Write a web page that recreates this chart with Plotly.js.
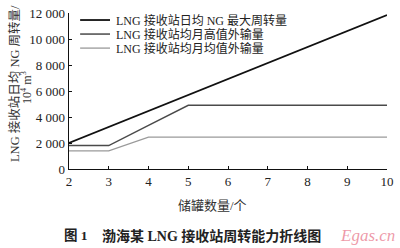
<!DOCTYPE html>
<html><head><meta charset="utf-8">
<script src="https://cdn.plot.ly/plotly-3.0.1.min.js"></script>
<style>html,body{margin:0;padding:0;background:#fff;}#chart{width:400px;height:248px;}</style>
</head><body><div id="chart"></div>
<script>
const tanks = [2, 3, 4, 5, 6, 7, 8, 9, 10];
const maxTurnover = [2000, 3230, 4460, 5690, 6920, 8150, 9380, 10610, 11840];
const peakMonthOut = [1800, 1800, 3350, 4900, 4900, 4900, 4900, 4900, 4900];
const avgMonthOut = [1400, 1400, 2450, 2450, 2450, 2450, 2450, 2450, 2450];
const seriesNames = ['LNG 接收站日均 NG 最大周转量', 'LNG 接收站均月高值外输量', 'LNG 接收站均月均值外输量'];
const seriesColors = ['#111', '#4a4a4a', '#9a9a9a'];
const seriesWidths = [1.8, 1.5, 1.3];
const yTickVals = [0, 2000, 4000, 6000, 8000, 10000, 12000];
const yTickText = ['0', '2 000', '4 000', '6 000', '8 000', '10 000', '12 000'];
const xTickVals = [2, 3, 4, 5, 6, 7, 8, 9, 10];

const FONT = 'Liberation Serif, Times New Roman, Noto Sans CJK SC, serif';
const seriesData = [maxTurnover, peakMonthOut, avgMonthOut];
const traces = seriesData.map((ys, i) => ({
  x: tanks, y: ys, name: seriesNames[i], mode: 'lines',
  line: {color: seriesColors[i], width: seriesWidths[i]}
}));

// legend drawn manually for tight spacing
const legY = [0.955, 0.865, 0.775];
const shapes = legY.map((y, i) => ({
  type: 'line', xref: 'paper', yref: 'paper', x0: 0.035, x1: 0.129, y0: y, y1: y,
  line: {color: seriesColors[i], width: seriesWidths[i]}
}));
const legendAnn = legY.map((y, i) => ({
  xref: 'paper', yref: 'paper', x: 0.143, y: y, xanchor: 'left', yanchor: 'middle',
  text: seriesNames[i], showarrow: false, font: {family: FONT, size: 12, color: '#222'}
}));

const layout = {
  width: 400, height: 248,
  margin: {l: 69, r: 13, t: 13, b: 79},
  paper_bgcolor: '#fff', plot_bgcolor: '#fff',
  font: {family: FONT, size: 13, color: '#222'},
  showlegend: false,
  xaxis: {range: [2, 10], tickvals: xTickVals, showgrid: false, zeroline: false,
          showline: true, linecolor: '#111', linewidth: 1.3, ticks: 'inside', ticklen: 3,
          tickcolor: '#111', tickfont: {family: FONT, size: 13, color: '#222'}},
  yaxis: {range: [0, 12000], tickvals: yTickVals, ticktext: yTickText, showgrid: false, zeroline: false,
          showline: true, linecolor: '#111', linewidth: 1.3, ticks: 'inside', ticklen: 3,
          tickcolor: '#111', tickfont: {family: FONT, size: 13, color: '#222'}},
  shapes: shapes,
  annotations: legendAnn.concat([
    {xref: 'paper', yref: 'paper', x: -0.173, y: 0.551, xanchor: 'center', yanchor: 'middle',
     text: 'LNG 接收站日均 NG 周转量/', textangle: -90, showarrow: false,
     font: {family: FONT, size: 12.5, color: '#333'}},
    {xref: 'paper', yref: 'paper', x: -0.132, y: 0.52, xanchor: 'center', yanchor: 'middle',
     text: '10<sup>4</sup> m<sup>3</sup>', textangle: -90, showarrow: false,
     font: {family: FONT, size: 12, color: '#333'}},
    {xref: 'paper', yref: 'paper', x: 0.45, y: -0.231, xanchor: 'center', yanchor: 'middle',
     text: '储罐数量/个', showarrow: false, font: {family: FONT, size: 13, color: '#333'}},
    {xref: 'paper', yref: 'paper', x: -0.022, y: -0.429, xanchor: 'left', yanchor: 'middle',
     text: '<b>图 1</b>', showarrow: false, font: {family: FONT, size: 13.5, color: '#222'}},
    {xref: 'paper', yref: 'paper', x: 0.097, y: -0.429, xanchor: 'left', yanchor: 'middle',
     text: '<b>渤海某 LNG 接收站周转能力折线图</b>', showarrow: false,
     font: {family: FONT, size: 14, color: '#222'}},
    {xref: 'paper', yref: 'paper', x: 1.03, y: -0.429, xanchor: 'right', yanchor: 'middle',
     text: '<i>Egas.cn</i>', showarrow: false, font: {family: FONT, size: 17, color: 'rgba(232,120,140,0.75)'}}
  ])
};
Plotly.newPlot('chart', traces, layout, {displayModeBar: false, staticPlot: true});
</script></body></html>
